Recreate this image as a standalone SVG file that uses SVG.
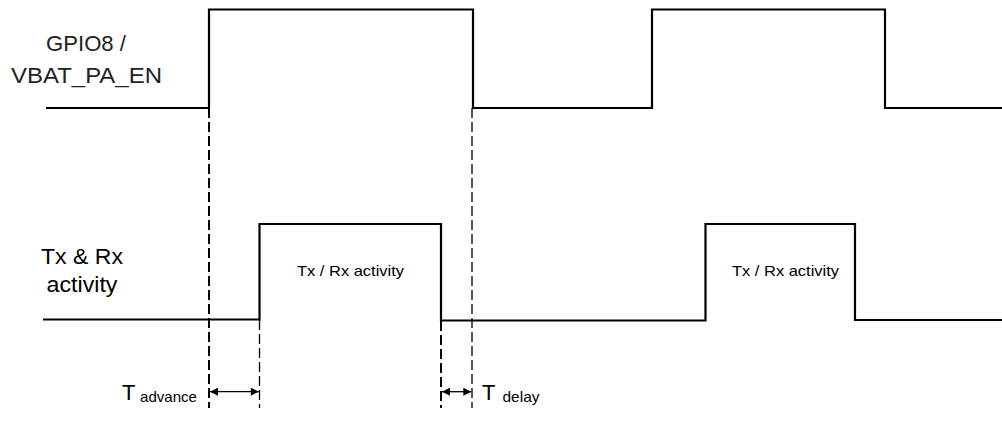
<svg xmlns="http://www.w3.org/2000/svg" width="1002" height="433" viewBox="0 0 1002 433">
<defs>
<style>
.sig{fill:none;stroke:#000;stroke-width:2.2;stroke-linejoin:miter}
.dk{fill:none;stroke:#000;stroke-width:2;stroke-dasharray:10 4}
.dn{fill:none;stroke:#000;stroke-width:1.3;stroke-dasharray:10 4}
.arr{fill:none;stroke:#000;stroke-width:1.3}
.lbl{font-family:"Liberation Sans",Arial,sans-serif;fill:#222;font-size:22px}
.big{font-family:"Liberation Sans",Arial,sans-serif;fill:#000;font-size:22px}
.sub{font-family:"Liberation Sans",Arial,sans-serif;fill:#000;font-size:15px}
.box{font-family:"Liberation Sans",Arial,sans-serif;fill:#000;font-size:15px}
</style>
<marker id="ah" viewBox="0 0 10 10" refX="10" refY="5" markerWidth="9" markerHeight="8" markerUnits="userSpaceOnUse" orient="auto-start-reverse">
<path d="M0,0 L10,5 L0,10 Z" fill="#000"/>
</marker>
</defs>
<g id="gpio8">
<path class="sig" d="M46,108 H209 V9.5 H473 V108 H652 V9.5 H885 V108 H1002"/>
<text class="lbl" x="86" y="51" text-anchor="middle" textLength="80" lengthAdjust="spacingAndGlyphs">GPIO8 /</text>
<text class="lbl" x="86.5" y="83" text-anchor="middle" textLength="151" lengthAdjust="spacingAndGlyphs">VBAT_PA_EN</text>
</g>
<g id="txrx">
<path class="sig" d="M43,319.5 H259.5 V224 H441 V320.5 H705.5 V224 H855 V320 H1002"/>
<text class="big" x="82" y="264" text-anchor="middle" textLength="82" lengthAdjust="spacingAndGlyphs">Tx &amp; Rx</text>
<text class="big" x="82" y="291.5" text-anchor="middle" textLength="71" lengthAdjust="spacingAndGlyphs">activity</text>
</g>
<g id="pulse1-label">
<text class="box" x="297" y="276" textLength="107" lengthAdjust="spacingAndGlyphs">Tx / Rx activity</text>
</g>
<g id="pulse2-label">
<text class="box" x="732" y="276" textLength="107" lengthAdjust="spacingAndGlyphs">Tx / Rx activity</text>
</g>
<g id="t-advance">
<text class="big" x="122" y="400">T</text>
<text class="sub" x="140" y="402" textLength="57" lengthAdjust="spacingAndGlyphs">advance</text>
</g>
<g id="t-delay">
<text class="big" x="482" y="399.5">T</text>
<text class="sub" x="502.5" y="402" textLength="37" lengthAdjust="spacingAndGlyphs">delay</text>
</g>
<g id="connectors">
<line class="dk" x1="209" y1="108" x2="209" y2="408"/>
<line class="dn" x1="259.5" y1="320" x2="259.5" y2="408"/>
<line class="dk" x1="441" y1="321" x2="441" y2="408"/>
<line class="dn" x1="472" y1="108" x2="472" y2="408"/>
<line class="arr" x1="210" y1="391.7" x2="258.8" y2="391.7" marker-start="url(#ah)" marker-end="url(#ah)"/>
<line class="arr" x1="442" y1="391.7" x2="471.3" y2="391.7" marker-start="url(#ah)" marker-end="url(#ah)"/>
</g>
</svg>
